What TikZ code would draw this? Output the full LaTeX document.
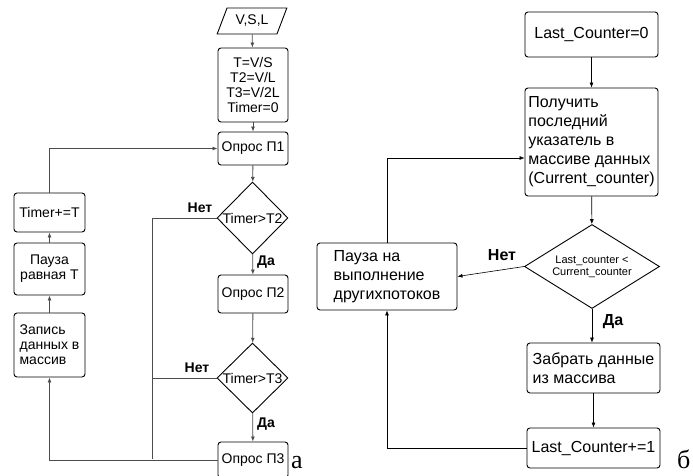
\documentclass[tikz,border=0pt]{standalone}
\usepackage{fontspec}
\setmainfont{Liberation Sans}
\newfontfamily\letterfont{Liberation Serif}
\usetikzlibrary{shapes.geometric,arrows.meta}

\begin{document}
\begin{tikzpicture}[x=1pt,y=-1pt,
    blk/.style={draw, rounded corners=3pt, line width=0.9pt, inner sep=2pt},
    cond/.style={draw, diamond, line width=0.9pt, inner sep=0pt},
    sm/.style={font=\fontsize{14}{15}\selectfont},
    bg/.style={font=\fontsize{16}{19}\selectfont},
    ans/.style={font=\bfseries\fontsize{14}{16}\selectfont},
    arr/.style={-{Latex[length=5pt,width=4pt]}},
    lnl/.style={draw=black!70, line width=0.8pt},
    lnr/.style={draw=black, line width=0.6pt},
    tag/.style={anchor=base west, font=\letterfont\fontsize{26}{30}\selectfont, inner sep=0pt}]
    \useasboundingbox (0,0) rectangle (693,476);
    \clip (0,0) rectangle (693,476);

    % left chart
    \node[draw, trapezium, trapezium left angle=63, trapezium right angle=117, trapezium stretches=true,
          line width=0.9pt, minimum width=70pt, minimum height=26pt, inner sep=1pt, sm] (vsl) at (252,21) {V,S,L};
    \node[blk, sm, align=center, minimum width=70pt, minimum height=74pt] (init) at (253,85) {T=V/S\\T2=V/L\\T3=V/2L\\Timer=0};
    \node[blk, sm, minimum width=70pt, minimum height=33pt] (p1) at (253,148.5) {Опрос П1};
    \node[cond, minimum width=71pt, minimum height=72pt, label={[sm]center:Timer>T2}] (d1) at (252.5,218) {};
    \node[blk, sm, minimum width=70pt, minimum height=38pt] (p2) at (253,294) {Опрос П2};
    \node[cond, minimum width=71pt, minimum height=70pt, label={[sm]center:Timer>T3}] (d2) at (252.5,378) {};
    \node[blk, sm, minimum width=70pt, minimum height=36pt] (p3) at (253,460) {Опрос П3};
    \node[blk, sm, minimum width=71pt, minimum height=39pt] (tim) at (49.5,212.5) {Timer+=T};
    \node[blk, sm, align=center, minimum width=71pt, minimum height=52pt] (pause) at (49.5,269) {Пауза\\равная Т};
    \node[blk, sm, align=left, minimum width=71pt, minimum height=64pt] (rec) at (49.5,345) {Запись\\данных в\\массив};
    \coordinate (nb) at (152,459);

    \draw[lnl,arr] (vsl) -- (init);
    \draw[lnl,arr] (init) -- (p1);
    \draw[lnl,arr] (p1) -- (d1);
    \draw[lnl,arr] (d1) -- (p2);
    \draw[lnl,arr] (p2) -- (d2);
    \draw[lnl,arr] (d2) -- (p3);
    \draw[lnl] (d1.west) -| (nb);
    \draw[lnl] (d2.west) -- (d2.west -| nb);
    \draw[lnl,arr] (p3.west) -| (rec.south);
    \draw[lnl,arr] (rec) -- (pause);
    \draw[lnl,arr] (pause) -- (tim);
    \draw[lnl,arr] (tim.north) |- (p1.west);
    \node[ans] at (200,208) {Нет};
    \node[ans] at (197,368) {Нет};
    \node[ans] at (266,262) {Да};
    \node[ans] at (266,424) {Да};

    % right chart
    \node[blk, bg, minimum width=133pt, minimum height=45pt] (lc0) at (591.5,34.5) {Last\_Counter=0};
    \node[blk, bg, align=left, minimum width=133pt, minimum height=108pt, inner sep=1pt] (get) at (591.5,142)
        {Получить\\последний\\указатель в\\массиве данных\\(Current\_counter)};
    \node[cond, minimum width=135pt, minimum height=84pt,
          label={[align=center, font=\fontsize{11}{12}\selectfont]center:Last\_counter <\\Current\_counter}] (d3) at (592,266.5) {};
    \node[blk, bg, align=left, minimum width=140pt, minimum height=67pt] (wait) at (387,276.5) {Пауза на\\выполнение\\другихпотоков};
    \node[blk, bg, align=left, minimum width=133pt, minimum height=50pt] (take) at (593.5,368) {Забрать данные\\из массива};
    \node[blk, bg, minimum width=133pt, minimum height=40pt] (lc1) at (593.5,448) {Last\_Counter+=1};

    \draw[lnr,arr] (lc0) -- (get);
    \draw[lnr,arr] (get) -- (d3);
    \draw[lnr,arr] (d3.west) -- (wait.east);
    \draw[lnr,arr] (d3.south) -- (take.north -| d3.south);
    \draw[lnr,arr] (take.south -| lc1.north) -- (lc1.north);
    \draw[lnr,arr] (lc1.west) -| (wait.south);
    \draw[lnr,arr] (wait.north) |- ([yshift=-16pt]get.west);
    \node[ans, font=\bfseries\fontsize{16}{18}\selectfont] at (502,255) {Нет};
    \node[ans, font=\bfseries\fontsize{16}{18}\selectfont] at (613,322) {Да};

    \node[tag] (la) at (291,468) {а};
    \node[tag] (lb) at (677,468) {б};
\end{tikzpicture}
\end{document}
